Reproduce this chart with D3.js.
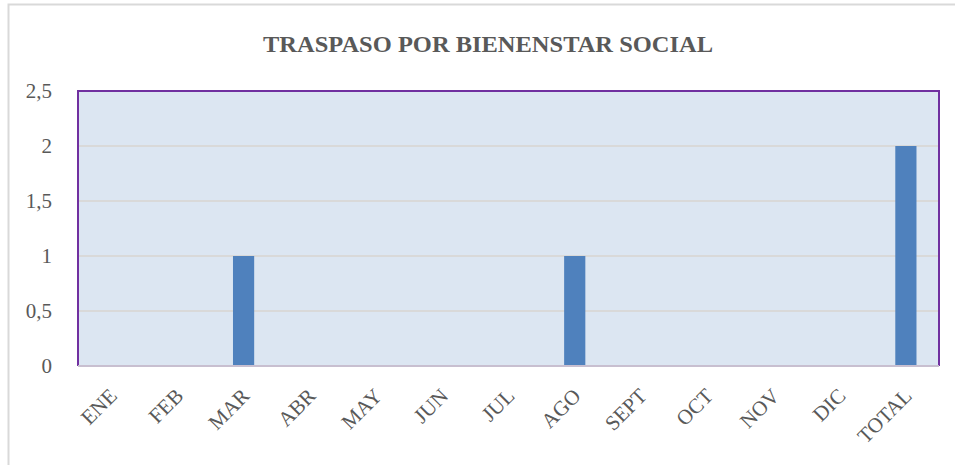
<!DOCTYPE html>
<html>
<head>
<meta charset="utf-8">
<script src="https://cdn.jsdelivr.net/npm/d3@7/dist/d3.min.js"></script>
<style>
  body { margin: 0; background: #fff; }
  svg { display: block; }
</style>
</head>
<body>
<svg id="chart"></svg>
<script>
const months = ['ENE', 'FEB', 'MAR', 'ABR', 'MAY', 'JUN', 'JUL', 'AGO', 'SEPT', 'OCT', 'NOV', 'DIC', 'TOTAL']
const values = [0, 0, 1, 0, 0, 0, 0, 1, 0, 0, 0, 0, 2]
const yTicks = [0, 0.5, 1, 1.5, 2, 2.5]
const title = 'TRASPASO POR BIENENSTAR SOCIAL'

const width = 955
const height = 465
const margin = { top: 91, right: 16, bottom: 99, left: 78 }
const innerW = width - margin.left - margin.right
const innerH = height - margin.top - margin.bottom

const svg = d3.select('#chart')
  .attr('width', width)
  .attr('height', height)

// outer chart border
svg.append('rect')
  .attr('x', 8.5).attr('y', 4.5)
  .attr('width', 980).attr('height', 500)
  .attr('fill', '#fff')
  .attr('stroke', '#d9d9d9')
  .attr('stroke-width', 2)

svg.append('text')
  .attr('x', 488).attr('y', 52)
  .attr('text-anchor', 'middle')
  .attr('font-family', 'Liberation Serif, serif')
  .attr('font-weight', 'bold')
  .attr('font-size', 24)
  .attr('textLength', 450)
  .attr('lengthAdjust', 'spacingAndGlyphs')
  .attr('fill', '#595959')
  .text(title)

const g = svg.append('g')
  .attr('transform', `translate(${margin.left},${margin.top})`)

const x = d3.scaleBand()
  .domain(months)
  .range([0, innerW])
  .paddingInner(0.68)
  .paddingOuter(0.34)

const y = d3.scaleLinear()
  .domain([0, 2.5])
  .range([innerH, 0])

g.append('rect')
  .attr('width', innerW).attr('height', innerH)
  .attr('fill', '#dce6f2')

g.selectAll('line.grid')
  .data(yTicks.filter(d => d > 0 && d < 2.5))
  .join('line')
    .attr('class', 'grid')
    .attr('x1', 0).attr('x2', innerW)
    .attr('y1', d => y(d)).attr('y2', d => y(d))
    .attr('stroke', '#d9d9d9')
    .attr('stroke-width', 2)

g.selectAll('rect.bar')
  .data(values)
  .join('rect')
    .attr('class', 'bar')
    .attr('x', (d, i) => x(months[i]))
    .attr('width', x.bandwidth())
    .attr('y', d => y(d))
    .attr('height', d => innerH - y(d))
    .attr('fill', '#4f81bd')

// frame: purple top/left/right, grey bottom axis
g.append('path')
  .attr('d', `M0,${innerH}V0H${innerW}V${innerH}`)
  .attr('fill', 'none')
  .attr('stroke', '#7030a0')
  .attr('stroke-width', 2)

g.append('line')
  .attr('x1', 0).attr('x2', innerW)
  .attr('y1', innerH).attr('y2', innerH)
  .attr('stroke', '#c8bfd0')
  .attr('stroke-width', 2)

const fmt = d3.formatLocale({ decimal: ',', thousands: '.', grouping: [3], currency: ['', ''] }).format('~g')

g.selectAll('text.ylab')
  .data(yTicks)
  .join('text')
    .attr('class', 'ylab')
    .attr('x', -26)
    .attr('y', d => y(d))
    .attr('dy', '0.35em')
    .attr('text-anchor', 'end')
    .attr('font-family', 'Liberation Serif, serif')
    .attr('font-size', 21)
    .attr('fill', '#595959')
    .text(d => fmt(d))

g.selectAll('text.xlab')
  .data(months)
  .join('text')
    .attr('class', 'xlab')
    .attr('transform', d => `translate(${x(d) + x.bandwidth() / 2 + 2},${innerH + 26}) rotate(-45)`)
    .attr('dy', '0.35em')
    .attr('text-anchor', 'end')
    .attr('font-family', 'Liberation Serif, serif')
    .attr('font-size', 21)
    .attr('fill', '#595959')
    .text(d => d)
</script>
</body>
</html>
